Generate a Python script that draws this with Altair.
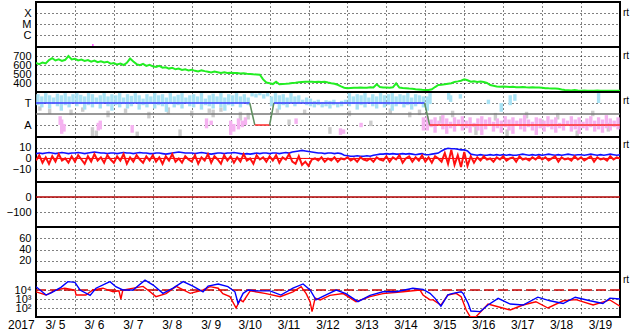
import altair as alt
import pandas as pd

W, H = 584, 45
FONT = "Liberation Sans"

# ---------------- data ----------------
day_labels = ["3/ 5", "3/ 6", "3/ 7", "3/ 8", "3/ 9", "3/10", "3/11", "3/12",
              "3/13", "3/14", "3/15", "3/16", "3/17", "3/18", "3/19"]
year_label = "2017"

# X-ray (log10 flux) : single visible sample
xray_day = [1.46]
xray_exp = [-6.95]

# solar wind speed, 2-hourly
speed = [622, 610, 628, 618, 655, 675, 650, 662, 645, 658, 700, 662,
         668, 650, 660, 645, 655, 638, 650, 632, 642, 628, 636, 615,
         622, 605, 615, 600, 625, 672, 640, 610, 598, 612, 590, 602,
         585, 578, 590, 570, 575, 560, 568, 552, 560, 545, 552, 540,
         548, 535, 528, 540, 532, 525, 518, 528, 520, 512, 518, 510,
         514, 510, 512, 506, 508, 503, 500, 497, 495, 492, 440, 405,
         398, 388, 415, 386, 390, 392, 395, 400, 402, 408, 412, 414,
         415, 414, 412, 414, 410, 413, 405, 398, 392, 380, 362, 348,
         342, 345, 348, 346, 350, 348, 347, 352, 350, 386, 355, 350,
         350, 348, 352, 397, 350, 345, 342, 338, 335, 330, 328, 324,
         322, 323, 330, 355, 378, 380, 385, 392, 398, 412, 418, 425,
         441, 430, 415, 418, 412, 416, 410, 400, 378, 370, 362, 358,
         360, 358, 356, 358, 354, 352, 355, 352, 350, 353, 351, 350,
         348, 343, 341, 340, 338, 335, 328, 322, 320, 318, 322, 316,
         315, 316, 314, 315, 313, 316, 314, 313, 315, 314, 313, 315,
         314]

# IMF Bz and Bt, 2-hourly
bz = [-2, 3, -4, 1, -5, 2, -3, 4, -2, 0, -4, 2,
      -3, 3, -1, -5, 2, -3, 4, -2, 1, -4, 3, -1,
      -4, 2, -2, 4, -5, 1, -3, 3, -1, -4, 2, -2,
      3, -3, 1, -5, 2, -2, 4, -3, 0, -4, 2, -1,
      -3, 3, -5, 1, -2, 4, -4, 2, -1, -5, 3, -2,
      2, -4, 1, -3, 4, -2, 0, -5, 3, -1, 1, -3,
      2, -2, 3, -4, 1, -1, 4, -3, -5, 2, -6, -3,
      -7, -1, 0, -2, 1, -3, 0, -2, 1, -3, 0, -1,
      1, -2, 0, -3, 1, -1, -2, 0, -3, 1, -1, -2,
      2, -3, 1, -1, 3, -4, 0, 2, -3, 1, -2, 3,
      -3, 1, -4, 2, 0, -3, 5, -5, 8, -6, 3, -8,
      6, -7, 2, -4, 1, -2, 2, -1, 0, -3, 1, -1,
      2, -2, 0, 1, -3, 2, -1, 0, -2, 1, -1, 2,
      -1, 1, -2, 0, 2, -3, 1, -1, 0, -2, 2, -1,
      1, -2, 0, 2, -3, 1, -1, 0, -2, 2, -1, 1,
      0]
bt = [4.5, 5, 4.5, 5, 5.5, 5, 4.5, 5, 5.5, 5, 4.5, 5,
      5, 5.5, 5, 4.5, 5, 5.5, 6, 5.5, 5, 5, 4.5, 5,
      5, 4.5, 5, 5.5, 5, 5, 4.5, 5, 5.5, 5, 5, 4.5,
      4.5, 5, 5, 4.5, 4, 4.5, 5, 5.5, 6, 5.5, 5, 5,
      5, 4.5, 5, 5.5, 5, 4.5, 4, 4.5, 5, 5, 4.5, 5,
      5, 5.5, 5, 4.5, 4, 4.5, 4, 4.5, 5, 4.5, 5, 5,
      4.5, 5, 5, 4.5, 5, 5.5, 5, 6, 6.5, 7, 7.5, 7,
      6.5, 6, 5.5, 5, 5, 4.5, 5, 5, 4.5, 5, 4.5, 3,
      2.5, 2, 2, 2.5, 2, 2, 2.5, 2, 3, 3.5, 4, 4,
      4.5, 4, 4.5, 4, 4, 4.5, 4, 4.5, 4, 3.5, 4, 4.5,
      3.5, 3.5, 4, 4.5, 5, 7, 8.5, 9.5, 9, 9, 8.5, 8,
      8, 7, 4, 3.5, 3, 3.5, 3, 3, 3.5, 3, 3.5, 3,
      3.5, 3, 3.5, 3, 3, 3.5, 4, 3.5, 3, 3.5, 3, 3.5,
      3, 3.5, 4, 3.5, 3, 3.5, 3, 3.5, 4, 3.5, 3, 3.5,
      3.5, 3, 3.5, 4, 3.5, 3, 3.5, 3, 3.5, 4, 3.5, 3,
      3.5]

# sector (toward / away) line segments
sector_start_day = [0, 5.49, 5.62, 6.0, 6.11, 9.98, 10.11]
sector_end_day = [5.49, 5.62, 6.0, 6.11, 9.98, 10.11, 15]
sector_start_lvl = [1, 1, -1, -1, 1, 1, -1]
sector_end_lvl = [1, -1, -1, 1, 1, -1, -1]
sector_kind = ["T", "S", "A", "S", "T", "S", "A"]

# field-angle samples: cyan (toward)
cyan_hi = [1.8, 1.6, 1.9, 1.7, 1.5, 1.85, 1.7, 1.9, 1.6, 1.8,
           1.9, 1.75, 1.6, 1.9, 1.8, 1.5, 1.7, 1.9, 1.6, 1.8,
           1.7, 1.9, 1.5, 1.8, 1.65, 1.9, 1.7, 1.4, 1.8, 1.6,
           1.9, 1.7, 1.8, 1.5, 1.9, 1.6, 1.75, 1.9, 1.5, 1.7,
           1.8, 1.6, 1.9, 1.4, 1.7, 1.85, 1.6, 1.9, 1.5, 1.8,
           1.7, 1.9, 1.6, 1.8, 1.5, 1.9, 1.85, 1.9, 1.8, 1.9,
           1.6, 1.9, 1.7, 1.8, 1.5, 1.9, 1.6, 1.7, 1.3, 1.5,
           1.4, 1.2, 1.3, 1.1, 1.25, 1.2, 1.3, 1.0, 1.2, 1.3,
           1.9, 1.6, 1.8, 1.7, 1.9, 1.5, 1.8, 1.6, 1.9, 1.7,
           1.8, 1.9, 1.6, 1.8, 1.7, 1.9, 1.5, 1.8, 1.7, 1.6,
           1.6, 1.9, 1.9, 1.7, 1.8, 1.3, 1.0, 1.7, 1.8, 1.9]
cyan_lo = [0.8, 0.6, 1.0, 0.5, 0.9, 0.7, 0.3, 0.8, 0.6, 1.0,
           0.7, 0.9, 0.4, 0.8, 0.6, 0.9, 0.5, 1.0, 0.7, 0.3,
           0.8, 0.6, 0.9, 0.5, 0.7, 1.0, 0.4, 0.8, 0.6, 0.9,
           0.5, 0.8, 0.7, 0.2, 0.9, 0.6, 0.8, 0.5, 1.0, 0.7,
           0.6, 0.9, 0.4, 0.8, 0.7, 0.5, 0.9, 0.6, 0.3, 0.8,
           0.7, 0.9, 0.6, 1.0, 0.8, 1.6, 1.5, 1.7, 1.4, 1.6,
           0.7, 0.9, 0.4, 0.8, 0.6, 1.0, 0.7, 0.9, 1.0, 0.8,
           0.7, 0.6, 0.8, 0.6, 0.7, 0.5, 0.8, 0.6, 0.7, 0.9,
           0.7, 0.9, 0.4, 0.8, 0.6, 1.0, 0.7, 0.5, 0.9, 0.6,
           0.8, 0.3, 0.7, 0.9, 0.6, 0.8, 0.4, 0.7, 0.9, 0.6,
           0.3, 0.9, 1.3, 1.1, 1.4, 0.9, 0.2, 0.8, 1.2, 1.0]
cyan_extra_day = [10.05, 10.12, 10.6, 10.65, 10.9, 11.62, 11.95, 12.18, 12.3, 14.45]

# pink (away)
pink_early_day = [0.62, 0.66, 0.72, 1.6, 1.65, 2.47, 4.38, 4.5, 5.0, 5.08, 5.2,
                  5.3, 5.38, 6.68, 7.82, 7.9, 8.35, 9.95]
pink_hi = [-0.2, -0.5, -0.9, -0.8, -0.6, -1.0, -0.4, -0.6, -0.6, -0.9, -0.4,
           -0.6, -0.3, -0.4, -1.3, -1.4, -0.8, -0.3,
           -0.2, -0.5, -0.3, -0.6, -0.1, -0.4, -0.7, -0.3, -0.5, -0.2,
           -0.6, -0.3, -0.8, -0.4, -0.2, -0.5, -0.3, -0.7, -0.4, -0.6,
           -0.2, -0.5, -0.3, -0.6, -0.4, -0.1, -0.5, -0.7, -0.3, -0.4,
           -0.6, -0.2, -0.5, -0.3, -0.8, -0.4, -0.6, -0.2, -0.5, -0.3,
           -0.7, -0.4, -0.2, -0.6, -0.3, -0.5, -0.1, -0.4, -0.6, -0.3]
pink_lo = [-1.0, -1.8, -1.6, -1.5, -1.4, -1.7, -1.3, -1.0, -1.9, -1.6, -1.4,
           -1.2, -1.0, -0.9, -1.9, -1.8, -1.2, -1.5,
           -1.5, -1.2, -1.7, -1.0, -1.4, -1.8, -1.3, -1.6, -1.1, -1.5,
           -1.3, -1.7, -1.2, -1.5, -1.9, -1.4, -1.1, -1.6, -1.3, -1.7,
           -1.2, -1.5, -1.8, -1.1, -1.4, -1.6, -1.2, -1.5, -1.9, -1.3,
           -1.6, -1.2, -1.4, -1.7, -1.3, -1.5, -1.1, -1.6, -1.4, -1.8,
           -1.3, -1.5, -1.2, -1.6, -1.4, -1.7, -1.3, -1.5, -1.2, -1.4]

# gray (undetermined)
gray_day = [0.1, 0.35, 0.55, 0.9, 1.2, 1.45, 1.55, 1.85, 2.3, 2.6, 2.9, 3.4, 3.7,
            4.0, 4.45, 4.55, 4.75, 5.25, 5.45, 6.2, 6.5, 6.9, 7.55, 8.05, 8.6,
            9.1, 9.6, 9.85, 10.4, 10.7, 11.3, 11.8, 12.1, 12.6, 13.0, 13.4,
            13.9, 14.3, 14.7]
gray_hi = [0.7, 0.5, 1.6, 0.4, 0.6, -1.2, -1.5, 0.3, 0.5, -1.6, 0.2, 0.6, -1.4,
           0.3, 0.5, 0.4, 0.6, 0.2, 0.1, 0.5, -0.5, 0.4, -1.2, 0.3, -0.6,
           0.5, 0.2, 0.4, -0.2, 0.3, -0.9, 0.1, -1.4, 0.2, -0.5, 0.1, -1.5, 0.3, -0.8]
gray_lo = [0.3, 0.0, 1.2, -0.1, 0.2, -2.0, -2.0, -0.3, 0.1, -2.0, -0.4, 0.0, -2.0,
           -0.2, 0.1, -0.3, 0.2, -0.6, -0.5, 0.1, -1.0, 0.0, -1.8, -0.2, -1.1,
           0.0, -0.3, -0.1, -0.8, -0.3, -1.9, -0.6, -2.0, -0.4, -1.2, -0.5, -2.0, -0.2, -1.6]

# particle flux (log10)
blue_day = [0, 0.26, 0.39, 0.64, 0.82, 1.0, 1.13, 1.39, 1.54, 1.90, 2.05, 2.23, 2.49,
            2.80, 3.01, 3.26, 3.52, 3.78, 4.03, 4.29, 4.42, 4.68, 4.93, 5.11, 5.19,
            5.32, 5.45, 5.65, 6.01, 6.29, 6.60, 6.86, 7.04, 7.19, 7.37, 7.71, 7.96,
            8.27, 8.58, 8.91, 9.25, 9.68, 9.94, 10.12, 10.25, 10.40, 10.58, 10.71,
            10.92, 10.97, 11.10, 11.17, 11.41, 11.61, 11.87, 12.18, 12.51, 12.89,
            13.20, 13.54, 13.85, 14.23, 14.56, 14.74, 15.0]
blue_exp = [4.37, 3.44, 3.67, 4.3, 4.93, 4.85, 4.0, 3.4, 4.2, 4.93, 4.37, 4.0, 4.0,
            5.1, 4.55, 3.63, 4.2, 4.93, 4.44, 3.8, 4.44, 4.67, 4.37, 3.8, 2.5,
            3.63, 4.0, 3.9, 3.9, 3.44, 4.2, 4.67, 4.0, 2.9, 3.3, 4.0, 3.6,
            2.7, 3.4, 3.8, 3.8, 4.2, 4.07, 3.63, 3.07, 2.2, 3.45, 3.63,
            3.8, 3.63, 2.5, 1.67, 1.6, 2.33, 3.07, 2.44, 2.33, 3.2,
            2.8, 2.5, 3.2, 2.8, 2.5, 3.1, 3.0]
red_day = [0, 0.26, 0.51, 0.74, 1.0, 1.03, 1.28, 1.46, 1.72, 1.98, 2.13, 2.18, 2.23,
           2.75, 2.93, 3.08, 3.34, 3.60, 3.96, 4.29, 4.47, 4.68, 4.80, 4.98, 5.14,
           5.24, 5.32, 5.50, 5.91, 6.27, 6.60, 6.81, 6.94, 7.04, 7.09, 7.17, 7.30,
           7.55, 7.89, 8.22, 8.58, 8.91, 9.43, 9.86, 9.94, 10.12, 10.20, 10.40,
           10.58, 10.79, 10.92, 11.05, 11.15, 11.30, 11.43, 11.61, 11.82, 12.18,
           12.51, 12.84, 13.15, 13.54, 13.87, 14.31, 14.74, 15.0]
red_exp = [3.8, 3.44, 4.0, 4.2, 4.0, 3.45, 3.45, 4.0, 4.2, 3.8, 3.9, 3.0, 4.0,
           4.4, 3.8, 3.26, 3.6, 4.4, 3.63, 4.0, 4.37, 4.2, 3.6, 3.26, 2.0,
           2.9, 2.7, 3.9, 3.6, 3.26, 3.8, 4.37, 3.6, 2.7, 1.6, 3.1, 2.9,
           3.4, 3.6, 2.7, 3.26, 3.6, 3.8, 4.0, 3.45, 2.9, 2.9, 2.33,
           3.45, 3.63, 3.26, 1.78, 1.04, 1.04, 1.6, 2.44, 2.2, 1.78,
           2.33, 2.7, 2.0, 2.8, 2.93, 2.33, 2.9, 2.2]

# ---------------- tables ----------------
days_2h = [i / 12 for i in range(len(speed))]
cyan_day = [0.05 + 0.1 * i for i in range(100)] + cyan_extra_day
pink_day = pink_early_day + [10.05 + 0.1 * i for i in range(50)]

df_speed = pd.DataFrame({"d": days_2h, "v": speed})
df_bz = pd.DataFrame({"d": days_2h, "v": bz})
df_bt = pd.DataFrame({"d": days_2h, "v": bt})
df_xray = pd.DataFrame({"d": xray_day, "v": xray_exp})
df_sector = pd.DataFrame({"d": sector_start_day, "d2": sector_end_day,
                          "v": sector_start_lvl, "v2": sector_end_lvl, "k": sector_kind})
df_cyan = pd.DataFrame({"d": cyan_day, "hi": cyan_hi, "lo": cyan_lo})
df_pink = pd.DataFrame({"d": pink_day, "hi": pink_hi, "lo": pink_lo})
df_gray = pd.DataFrame({"d": gray_day, "hi": gray_hi, "lo": gray_lo})
df_pblue = pd.DataFrame({"d": blue_day, "v": blue_exp})
df_pred = pd.DataFrame({"d": red_day, "v": red_exp})
df_lab = pd.DataFrame({"d": [i + 0.5 for i in range(15)], "t": day_labels})
one = pd.DataFrame({"d": [0], "v": [0]})

GRID = dict(grid=True, gridColor="black", gridDash=[1, 3], gridWidth=1,
            ticks=False, domain=False, title=None)


def X(field="d:Q"):
    return alt.X(field, scale=alt.Scale(domain=[0, 15], nice=False, zero=False),
                 axis=alt.Axis(values=list(range(1, 15)), labels=False, **GRID))


def Y(field, domain, values, expr=None):
    ax = dict(values=values, labelPadding=5, labelFont=FONT, labelFontSize=11,
              labelColor="black", labelOverlap=False, labelBound=False, **GRID)
    if expr:
        ax["labelExpr"] = expr
    return alt.Y(field, scale=alt.Scale(domain=domain, nice=False, zero=False),
                 axis=alt.Axis(**ax))


def rt(offset):
    return alt.Chart(one).mark_text(text="rt", align="left", baseline="middle",
                                    font=FONT, fontSize=10, color="black").encode(
        x=alt.value(W + 3), y=alt.value(offset))


def hline(dom, vals, value, color, width, dash=None, expr=None):
    kw = dict(color=color, strokeWidth=width)
    if dash:
        kw["strokeDash"] = dash
    return alt.Chart(pd.DataFrame({"d": [0], "d2": [15], "v": [value]})).mark_rule(**kw).encode(
        x=X(), x2="d2:Q", y=Y("v:Q", dom, vals, expr))


# panel 1: X-ray class
d1 = [-7.09, -3]
v1 = [-6, -5, -4]
e1 = "datum.value == -4 ? 'X' : datum.value == -5 ? 'M' : 'C'"
p1 = alt.layer(
    alt.Chart(df_xray).mark_tick(color="#ff00ff", thickness=1.5, size=3, orient="vertical", clip=True).encode(
        x=X(), y=Y("v:Q", d1, v1, e1)),
    rt(11),
).properties(width=W, height=H)

# panel 2: speed
d2 = [300, 800]
v2 = [400, 500, 600, 700]
p2 = alt.layer(
    alt.Chart(df_speed).mark_line(color="#22ee22", strokeWidth=2, clip=True).encode(
        x=X(), y=Y("v:Q", d2, v2)),
    rt(8.5),
).properties(width=W, height=H)

# panel 3: sector
d3 = [-2.09, 2.0]
v3 = [-1, 1]
e3 = "datum.value == 1 ? 'T' : 'A'"
seg = lambda df, color: alt.Chart(df).mark_rule(color=color, strokeWidth=3.4, clip=True).encode(
    x=X(), y=Y("hi:Q", d3, v3, e3), y2="lo:Q")
p3 = alt.layer(
    seg(df_gray, "#cccccc"),
    seg(df_cyan, "#a8e2f4"),
    seg(df_pink, "#f5b2f0"),
    hline(d3, v3, 0, "#777777", 1.5, expr=e3),
    alt.Chart(df_sector).mark_rule(strokeWidth=1.5, clip=True).encode(
        x=X(), x2="d2:Q", y=Y("v:Q", d3, v3, e3), y2="v2:Q",
        color=alt.Color("k:N", scale=alt.Scale(domain=["T", "A", "S"],
                                               range=["#3a3aff", "#ff2a2a", "#5f8f5f"]),
                        legend=None)),
    rt(9),
).properties(width=W, height=H)

# panel 4: Bt / Bz
d4 = [-22, 20]
v4 = [-10, 0, 10]
p4 = alt.layer(
    hline(d4, v4, 0, "#ff0000", 1),
    alt.Chart(df_bt).mark_line(color="#1010ff", strokeWidth=1.6, clip=True).encode(
        x=X(), y=Y("v:Q", d4, v4)),
    alt.Chart(df_bz).mark_line(color="#ff1010", strokeWidth=2, clip=True).encode(
        x=X(), y=Y("v:Q", d4, v4)),
    rt(8),
).properties(width=W, height=H)

# panel 5
d5 = [-200, 100]
v5 = [-100, 0]
p5 = alt.layer(hline(d5, v5, 0, "#b00000", 1.5)).properties(width=W, height=H)

# panel 6
d6 = [0, 80]
v6 = [20, 40, 60]
p6 = alt.layer(alt.Chart(one).mark_point(opacity=0).encode(x=X(), y=Y("v:Q", d6, v6))).properties(width=W, height=H)

# panel 7: particle flux
d7 = [1, 6]
v7 = [2, 3, 4, 5]
e7 = "datum.value == 4 ? '10⁴' : datum.value == 3 ? '10³' : datum.value == 2 ? '10²' : ''"
p7 = alt.layer(
    hline(d7, v7, 4, "#c80000", 1.5, dash=[10, 4], expr=e7),
    alt.Chart(df_pred).mark_line(color="#ff0000", strokeWidth=1.4, clip=True).encode(
        x=X(), y=Y("v:Q", d7, v7, e7)),
    alt.Chart(df_pblue).mark_line(color="#0000ff", strokeWidth=1.4, clip=True).encode(
        x=X(), y=Y("v:Q", d7, v7, e7)),
    alt.Chart(df_lab).mark_text(font=FONT, fontSize=12, color="black", baseline="middle").encode(
        x=X(), y=alt.value(H + 8), text="t:N"),
    alt.Chart(one).mark_text(text=year_label, font=FONT, fontSize=12, color="black",
                             align="left", baseline="middle").encode(
        x=alt.value(-28), y=alt.value(H + 8)),
    rt(8),
).properties(width=W, height=H)

chart = alt.vconcat(p1, p2, p3, p4, p5, p6, p7, spacing=0, bounds="flush").properties(
    padding={"left": 5, "top": 1, "right": 0, "bottom": 0},
    background="white",
).configure_view(stroke="black", strokeWidth=2)

chart.save("out.html", embed_options={"renderer": "svg", "actions": False})
